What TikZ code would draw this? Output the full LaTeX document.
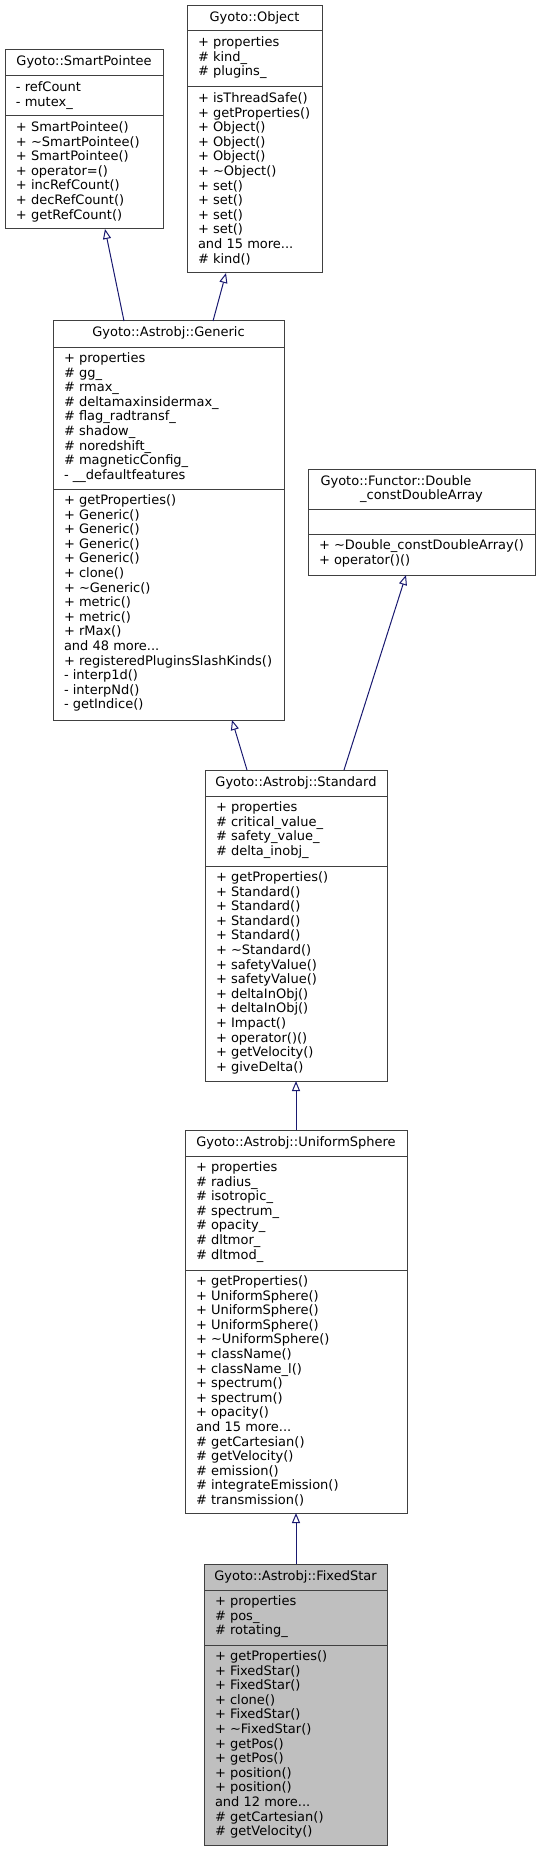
\documentclass[tikz,border=0pt]{standalone}
\usepackage{fontspec}
\setmainfont{DejaVu Sans}
\usetikzlibrary{arrows.meta,calc}
\definecolor{edgeblue}{HTML}{191970}
\definecolor{boxline}{HTML}{404040}
\definecolor{hilite}{HTML}{BFBFBF}
\newcommand\dfont{\fontsize{13}{14.6}\selectfont}
\newcommand\tl[1]{\begin{tabular}[t]{@{}l@{}}#1\end{tabular}}
% name x1 x2 ytop yhead ysep ybot extra-style
\newcommand\umlbox[8]{%
  \node[clsbox,#8,minimum width={(#3-#2)*1pt},minimum height={(#7-#4)*1pt}] (#1) at (#2,#4) {};
  \draw[sepline] ($(#1.north west)+(0,#5-#4)$) -- ($(#1.north east)+(0,#5-#4)$);
  \draw[sepline] ($(#1.north west)+(0,#6-#4)$) -- ($(#1.north east)+(0,#6-#4)$);
}
\begin{document}
\begin{tikzpicture}[x=1pt,y=-1pt,font=\dfont,
  clsbox/.style={draw=boxline,line width=1pt,fill=white,anchor=north west,inner sep=0pt,outer sep=0pt},
  hl/.style={fill=hilite},
  sepline/.style={draw=boxline,line width=1pt},
  txt/.style={anchor=base west,inner sep=0pt,outer sep=0pt},
  ttl/.style={anchor=base,inner sep=0pt,outer sep=0pt},
  inh/.style={draw=edgeblue,line width=1pt,-{Triangle[open,length=10pt,width=8pt]}}]
\useasboundingbox (0,0) rectangle (541,1851);

% ---------- SmartPointee
\umlbox{smart}{5}{163}{50}{76}{116}{229}{}
\node[ttl] (smart-h) at (84,66) {Gyoto::SmartPointee};
\node[txt] (smart-a) at (16,91.5) {\tl{- refCount\\- mutex\_}};
\node[txt] (smart-m) at (16,131.5) {\tl{+ SmartPointee()\\+ \textasciitilde SmartPointee()\\+ SmartPointee()\\+ operator=()\\+ incRefCount()\\+ decRefCount()\\+ getRefCount()}};

% ---------- Object
\umlbox{object}{187}{322}{6}{31}{87}{273}{}
\node[ttl] (object-h) at (254.5,22) {Gyoto::Object};
\node[txt] (object-a) at (198,46.5) {\tl{+ properties\\\# kind\_\\\# plugins\_}};
\node[txt] (object-m) at (198,102.5) {\tl{+ isThreadSafe()\\+ getProperties()\\+ Object()\\+ Object()\\+ Object()\\+ \textasciitilde Object()\\+ set()\\+ set()\\+ set()\\+ set()\\and 15 more...\\\# kind()}};

% ---------- Generic
\umlbox{generic}{53}{284}{321}{347}{489}{720}{}
\node[ttl] (generic-h) at (168.5,337) {Gyoto::Astrobj::Generic};
\node[txt] (generic-a) at (64,362.5) {\tl{+ properties\\\# gg\_\\\# rmax\_\\\# deltamaxinsidermax\_\\\# flag\_radtransf\_\\\# shadow\_\\\# noredshift\_\\\# magneticConfig\_\\- \_\_defaultfeatures}};
\node[txt] (generic-m) at (64,504.5) {\tl{+ getProperties()\\+ Generic()\\+ Generic()\\+ Generic()\\+ Generic()\\+ clone()\\+ \textasciitilde Generic()\\+ metric()\\+ metric()\\+ rMax()\\and 48 more...\\+ registeredPluginsSlashKinds()\\- interp1d()\\- interpNd()\\- getIndice()}};

% ---------- Functor
\umlbox{functor}{308}{535}{469}{509}{534}{575}{}
\node[txt] (functor-h1) at (320.5,485) {Gyoto::Functor::Double};
\node[ttl] (functor-h2) at (421.5,499.6) {\_constDoubleArray};
\node[txt] (functor-m) at (319,549.5) {\tl{+ \textasciitilde Double\_constDoubleArray()\\+ operator()()}};

% ---------- Standard
\umlbox{standard}{205}{387}{770}{796}{866}{1081}{}
\node[ttl] (standard-h) at (296,786) {Gyoto::Astrobj::Standard};
\node[txt] (standard-a) at (216,811.5) {\tl{+ properties\\\# critical\_value\_\\\# safety\_value\_\\\# delta\_inobj\_}};
\node[txt] (standard-m) at (216,881.5) {\tl{+ getProperties()\\+ Standard()\\+ Standard()\\+ Standard()\\+ Standard()\\+ \textasciitilde Standard()\\+ safetyValue()\\+ safetyValue()\\+ deltaInObj()\\+ deltaInObj()\\+ Impact()\\+ operator()()\\+ getVelocity()\\+ giveDelta()}};

% ---------- UniformSphere
\umlbox{uniform}{185}{407}{1130}{1156}{1270}{1513}{}
\node[ttl] (uniform-h) at (296,1146) {Gyoto::Astrobj::UniformSphere};
\node[txt] (uniform-a) at (196,1171.5) {\tl{+ properties\\\# radius\_\\\# isotropic\_\\\# spectrum\_\\\# opacity\_\\\# dltmor\_\\\# dltmod\_}};
\node[txt] (uniform-m) at (196,1285.5) {\tl{+ getProperties()\\+ UniformSphere()\\+ UniformSphere()\\+ UniformSphere()\\+ \textasciitilde UniformSphere()\\+ className()\\+ className\_l()\\+ spectrum()\\+ spectrum()\\+ opacity()\\and 15 more...\\\# getCartesian()\\\# getVelocity()\\\# emission()\\\# integrateEmission()\\\# transmission()}};

% ---------- FixedStar
\umlbox{fixed}{204}{387}{1564}{1590}{1645}{1845}{hl}
\node[ttl] (fixed-h) at (295.5,1580) {Gyoto::Astrobj::FixedStar};
\node[txt] (fixed-a) at (215,1605.5) {\tl{+ properties\\\# pos\_\\\# rotating\_}};
\node[txt] (fixed-m) at (215,1660.5) {\tl{+ getProperties()\\+ FixedStar()\\+ FixedStar()\\+ clone()\\+ FixedStar()\\+ \textasciitilde FixedStar()\\+ getPos()\\+ getPos()\\+ position()\\+ position()\\and 12 more...\\\# getCartesian()\\\# getVelocity()}};

% ---------- inheritance connectors
\draw[inh] ($(generic.north west)+(71,0)$) -- ($(smart.south west)+(100,0)$);
\draw[inh] ($(generic.north west)+(160,0)$) -- ($(object.south west)+(39,0)$);
\draw[inh] ($(standard.north west)+(42,0)$) -- ($(generic.south west)+(179,0)$);
\draw[inh] ($(standard.north west)+(139,0)$) -- ($(functor.south west)+(98,0)$);
\draw[inh] ($(uniform.north west)+(111,0)$) -- ($(standard.south west)+(91,0)$);
\draw[inh] ($(fixed.north west)+(92,0)$) -- ($(uniform.south west)+(111,0)$);
\end{tikzpicture}
\end{document}
